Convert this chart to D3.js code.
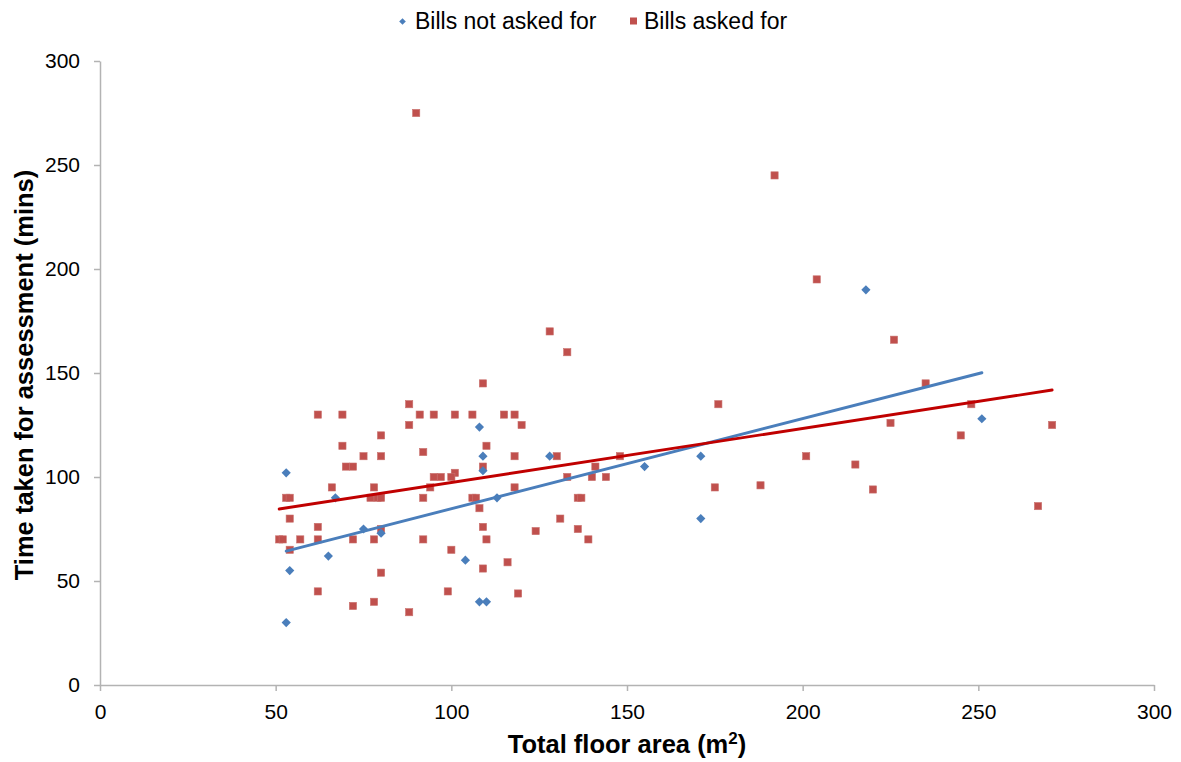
<!DOCTYPE html>
<html>
<head>
<meta charset="utf-8">
<script src="https://cdn.jsdelivr.net/npm/d3@7"></script>
<style>
  html, body { margin: 0; padding: 0; background: #fff; }
  svg { display: block; font-family: "Liberation Sans", Arial, sans-serif; }
</style>
</head>
<body>
<svg id="chart" width="1181" height="762"></svg>
<script>
// Floor area (m²) and assessment time (mins) per property
const notAskedArea = [53, 53, 54, 65, 67, 75, 80, 104, 108, 109, 109, 113, 108, 110, 128, 155, 171, 171, 218, 251];
const notAskedTime = [30, 102, 55, 62, 90, 75, 73, 60, 124, 110, 103, 90, 40, 40, 110, 105, 110, 80, 190, 128];

const askedArea = [88, 62, 69, 91, 95, 88, 80, 69, 92, 75, 80, 70, 72, 95, 66, 78, 94, 53, 54, 77,
                   79, 80, 92, 54, 62, 80, 51, 52, 57, 62, 72, 78, 92, 54, 80, 62, 72, 78, 88, 109,
                   101, 106, 115, 118, 120, 110, 118, 130, 109, 101, 97, 100, 118, 106, 107, 108, 109, 110, 100, 124,
                   116, 109, 99, 119, 131, 133, 141, 140, 144, 136, 137, 136, 139, 128, 133, 148, 176, 175, 188, 204,
                   226, 235, 248, 225, 245, 271, 201, 215, 220, 267, 192, 90];
const askedTime = [135, 130, 130, 130, 130, 125, 120, 115, 112, 110, 110, 105, 105, 100, 95, 95, 95, 90, 90, 90,
                   90, 90, 90, 80, 76, 75, 70, 70, 70, 70, 70, 70, 70, 65, 54, 45, 38, 40, 35, 145,
                   130, 130, 130, 130, 125, 115, 110, 110, 105, 102, 100, 100, 95, 90, 90, 85, 76, 70, 65, 74,
                   59, 56, 45, 44, 80, 100, 105, 100, 100, 90, 90, 75, 70, 170, 160, 110, 135, 95, 96, 195,
                   166, 145, 135, 126, 120, 125, 110, 106, 94, 86, 245, 275];

// Linear trend lines: [slope, intercept]
const notAskedFit = [0.433, 41.45];
const askedFit = [0.260, 71.35];

const xTicks = [0, 50, 100, 150, 200, 250, 300];
const yTicks = [0, 50, 100, 150, 200, 250, 300];

const seriesNames = ["Bills not asked for", "Bills asked for"];
const blue = "#4A7EBB";
const red = "#C0504D";
const blueTrend = "#4A7EBB";
const redTrend = "#C00000";
const axisGrey = "#B3B3B3";

const svg = d3.select("#chart");

const x = d3.scaleLinear().domain([0, 300]).range([100, 1154]);
const y = d3.scaleLinear().domain([0, 300]).range([685, 61]);

// Axes
const xAxis = svg.append("g")
  .attr("transform", `translate(0,${y(0)})`)
  .call(d3.axisBottom(x).tickValues(xTicks).tickSize(6).tickSizeOuter(0).tickPadding(13));
const yAxis = svg.append("g")
  .attr("transform", `translate(${x(0)},0)`)
  .call(d3.axisLeft(y).tickValues(yTicks).tickSize(6).tickSizeOuter(0).tickPadding(14));

[xAxis, yAxis].forEach(g => {
  g.selectAll("path.domain").attr("stroke", axisGrey).attr("stroke-width", 1.5);
  g.selectAll(".tick line").attr("stroke", axisGrey).attr("stroke-width", 1.5);
  g.selectAll(".tick text")
    .attr("fill", "#000")
    .style("font-size", "21px")
    .style("font-family", "'Liberation Sans', Arial, sans-serif");
});

// Axis titles
const xTitle = svg.append("text")
  .attr("x", 627).attr("y", 753)
  .attr("text-anchor", "middle")
  .style("font-size", "25.5px").style("font-weight", "bold");
xTitle.append("tspan").text("Total floor area (m");
xTitle.append("tspan").attr("dy", -9).style("font-size", "17px").text("2");
xTitle.append("tspan").attr("dy", 9).text(")");

svg.append("text")
  .attr("transform", `translate(33,${(y(0) + y(300)) / 2 + 2}) rotate(-90)`)
  .attr("text-anchor", "middle")
  .style("font-size", "25.5px").style("font-weight", "bold")
  .text("Time taken for assessment (mins)");

// Trend lines over each series' data range
function trend(areaArr, fit, color) {
  const [lo, hi] = d3.extent(areaArr);
  svg.append("line")
    .attr("x1", x(lo)).attr("y1", y(fit[0] * lo + fit[1]))
    .attr("x2", x(hi)).attr("y2", y(fit[0] * hi + fit[1]))
    .attr("stroke", color).attr("stroke-width", 2.9)
    .attr("stroke-linecap", "round");
}

// Markers
const askedPts = askedArea.map((a, i) => [a, askedTime[i]]);
const notAskedPts = notAskedArea.map((a, i) => [a, notAskedTime[i]]);

svg.append("g").selectAll("rect")
  .data(askedPts).join("rect")
  .attr("x", d => x(d[0]) - 3.6).attr("y", d => y(d[1]) - 3.6)
  .attr("width", 7.2).attr("height", 7.2)
  .attr("fill", red).attr("stroke", "#C9706D").attr("stroke-width", 0.6);

svg.append("g").selectAll("path")
  .data(notAskedPts).join("path")
  .attr("d", "M0,-4.6L4.6,0L0,4.6L-4.6,0Z")
  .attr("transform", d => `translate(${x(d[0])},${y(d[1])})`)
  .attr("fill", blue);

trend(notAskedArea, notAskedFit, blueTrend);
trend(askedArea, askedFit, redTrend);

// Legend
const legend = svg.append("g").style("font-size", "23px");
legend.append("path")
  .attr("d", "M0,-3.3L3.3,0L0,3.3L-3.3,0Z")
  .attr("transform", "translate(402.5,21.5)")
  .attr("fill", blue);
legend.append("text").attr("x", 415).attr("y", 29).text(seriesNames[0]);
legend.append("rect")
  .attr("x", 630).attr("y", 17.5).attr("width", 7).attr("height", 7)
  .attr("fill", red);
legend.append("text").attr("x", 644).attr("y", 29).text(seriesNames[1]);
</script>
</body>
</html>
